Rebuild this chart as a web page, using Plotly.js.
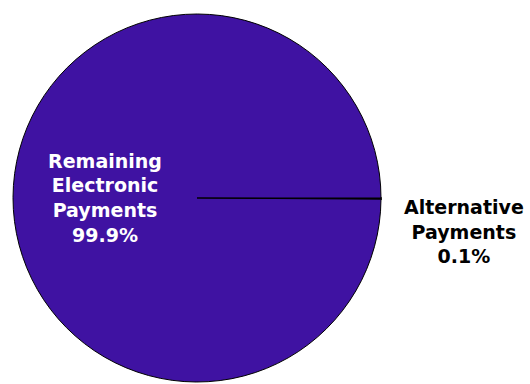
<!DOCTYPE html>
<html><head><meta charset="utf-8">
<script src="https://cdn.plot.ly/plotly-3.0.1.min.js"></script>
<style>html,body{margin:0;padding:0;background:#fff}</style>
</head><body>
<div id="chart" style="width:530px;height:384px"></div>
<script>
const labels = ["Alternative<br>Payments", "Remaining<br>Electronic<br>Payments"];
const values = [0.1, 99.9];
const percentText = ["0.1%", "99.9%"];

const trace = {
  type: "pie",
  labels: labels,
  values: values,
  text: percentText,
  sort: false,
  direction: "clockwise",
  rotation: 90,
  texttemplate: ["", "%{label}<br>%{text}"],
  textposition: ["none", "inside"],
  insidetextorientation: "horizontal",
  insidetextfont: {family: "DejaVu Sans", size: 19, color: "#ffffff", weight: "bold"},
  marker: {colors: ["#3f12a2", "#3f12a2"], line: {color: "#000000", width: [1.8, 1]}},
  hoverinfo: "none",
  domain: {x: [0.0245, 0.7189], y: [0.0052, 0.9635]}
};

Plotly.newPlot("chart", [trace], {
  width: 530, height: 384,
  margin: {l: 0, r: 0, t: 0, b: 0},
  showlegend: false,
  paper_bgcolor: "#ffffff",
  font: {family: "DejaVu Sans"},
  annotations: [{
    xref: "paper", yref: "paper", x: 0.875, y: 0.396,
    xanchor: "center", yanchor: "middle", align: "center",
    showarrow: false,
    text: labels[0] + "<br>" + percentText[0],
    font: {family: "DejaVu Sans", size: 19, color: "#000000", weight: "bold"}
  }]
}, {staticPlot: true});
</script>
</body></html>
